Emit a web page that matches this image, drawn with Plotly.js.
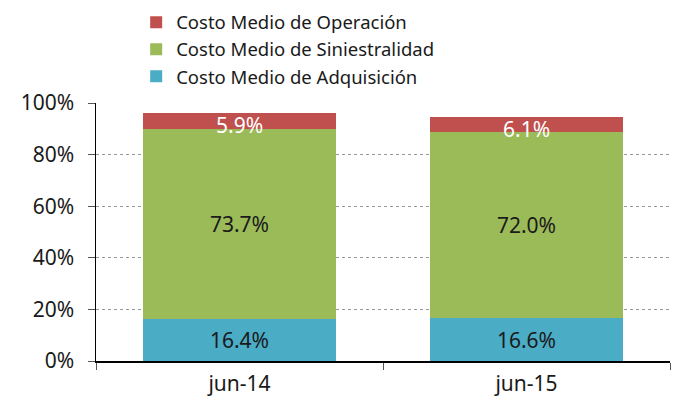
<!DOCTYPE html>
<html><head><meta charset="utf-8">
<script src="https://cdn.plot.ly/plotly-3.0.1.min.js"></script>
<style>body{margin:0;padding:0;background:#fff}#c{width:676px;height:403px}</style>
</head><body><div id="c"></div>
<script>
var categories = ['jun-14', 'jun-15'];
var adquisicion = [16.4, 16.6];
var siniestralidad = [73.7, 72.0];
var operacion = [5.9, 6.1];
var yTickVals = [0, 20, 40, 60, 80, 100];
var yTickText = ['0%', '20%', '40%', '60%', '80%', '100%'];

function lbl(a){ return a.map(function(v){ return v.toFixed(1) + '%'; }); }
var common = {type:'bar', x:categories, textposition:'inside', insidetextanchor:'middle', constraintext:'none', hoverinfo:'skip', cliponaxis:false};
var traces = [
  Object.assign({}, common, {name:'Costo Medio de Adquisición', y:adquisicion, text:lbl(adquisicion), marker:{color:'#4BACC6', line:{width:0}}, textfont:{color:'#1a1a1a', size:21}}),
  Object.assign({}, common, {name:'Costo Medio de Siniestralidad', y:siniestralidad, text:lbl(siniestralidad), marker:{color:'#9BBB59', line:{width:0}}, textfont:{color:'#1a1a1a', size:21}}),
  Object.assign({}, common, {name:'Costo Medio de Operación', y:operacion, textposition:'none', marker:{color:'#C0504D', line:{width:0}}})
];
var opLabels = categories.map(function(c, i){
  return {x:c, y:adquisicion[i] + siniestralidad[i] + operacion[i] / 2, xref:'x', yref:'y', text:operacion[i].toFixed(1) + '%', showarrow:false, yshift:-4, font:{size:21, color:'#ffffff'}};
});
var layout = {
  width:676, height:403,
  margin:{l:96, r:6, t:103, b:42, autoexpand:false},
  barmode:'stack', bargap:0.33,
  font:{family:'Noto Sans, sans-serif', size:19, color:'#1a1a1a'},
  paper_bgcolor:'#fff', plot_bgcolor:'#fff',
  showlegend:true,
  annotations:opLabels,
  legend:{x:0.07, y:1.385, xanchor:'left', yanchor:'top', traceorder:'reversed', font:{size:18.5, color:'#1a1a1a'}, tracegroupgap:0, itemwidth:30},
  xaxis:{type:'category', tickson:'boundaries', ticks:'outside', ticklen:7, tickcolor:'#555', showline:true, linecolor:'#000', linewidth:1.5, showgrid:false, tickfont:{size:21}, ticklabelstandoff:3, automargin:false},
  yaxis:{range:[0,100], tickvals:yTickVals, ticktext:yTickText, ticks:'outside', ticklen:7, tickcolor:'#555', showline:true, linecolor:'#000', linewidth:1.5, showgrid:true, gridcolor:'#999', griddash:'dot', gridwidth:1, zeroline:false, tickfont:{size:21}, ticklabelstandoff:9, automargin:false}
};
Plotly.newPlot('c', traces, layout, {displayModeBar:false, staticPlot:true});
</script></body></html>
